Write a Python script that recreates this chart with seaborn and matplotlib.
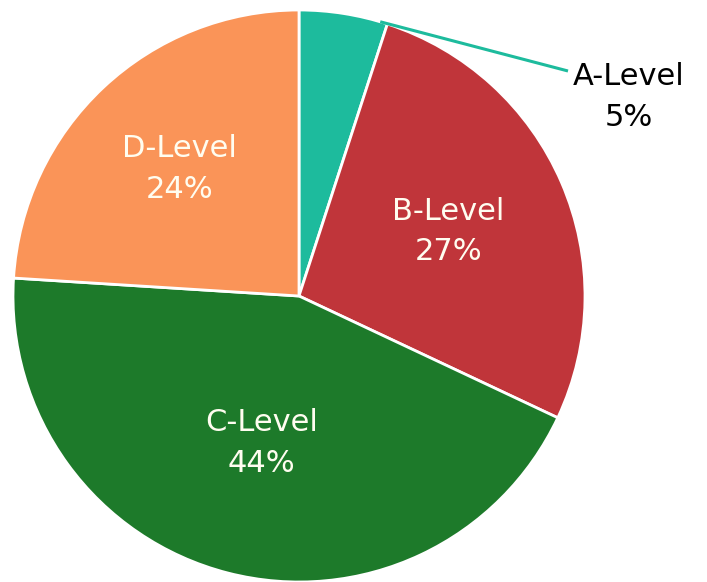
import matplotlib
matplotlib.use("Agg")
import matplotlib.pyplot as plt
import numpy as np
import seaborn as sns

sns.set_theme(style="white")
plt.rcParams["font.family"] = ["DejaVu Sans"]

# 数据
levels = ["A-Level", "B-Level", "C-Level", "D-Level"]
shares = [5, 27, 44, 24]
colors = ["#1dbb9d", "#c0353a", "#1d7a2a", "#fa9458"]

W, H = 707, 582
fig = plt.figure(figsize=(W / 100, H / 100), dpi=100)
ax = fig.add_axes([0, 0, 1, 1])

cx, cy, r = 299, H - 296, 286
wedges, _ = ax.pie(
    shares,
    colors=colors,
    startangle=90,
    counterclock=False,
    center=(cx, cy),
    radius=r,
    wedgeprops={"edgecolor": "white", "linewidth": 2},
    frame=True,
)
ax.set_xlim(0, W)
ax.set_ylim(0, H)
ax.set_aspect("equal")
ax.axis("off")

# 扇区内标签
dist = {1: 0.57, 2: 0.53, 3: 0.61}
for i, w in enumerate(wedges):
    if i == 0:
        continue
    ang = np.deg2rad((w.theta1 + w.theta2) / 2)
    x = cx + dist[i] * r * np.cos(ang)
    y = cy + dist[i] * r * np.sin(ang)
    ax.text(x, y, f"{levels[i]}\n{shares[i]}%", ha="center", va="center",
            color="#fffdf0", fontsize=22, linespacing=1.5)

# A-Level 引出线
w = wedges[0]
ang = np.deg2rad(w.theta1 + 1.5)
x0 = cx + r * np.cos(ang)
y0 = cy + r * np.sin(ang)
ax.plot([x0, 568], [y0, H - 71], color=colors[0], lw=2.2, solid_capstyle="butt")
ax.text(629, H - 97, f"{levels[0]}\n{shares[0]}%", ha="center", va="center",
        color="black", fontsize=22, linespacing=1.5)

fig.savefig("out.png", dpi=100)
plt.close("all")
